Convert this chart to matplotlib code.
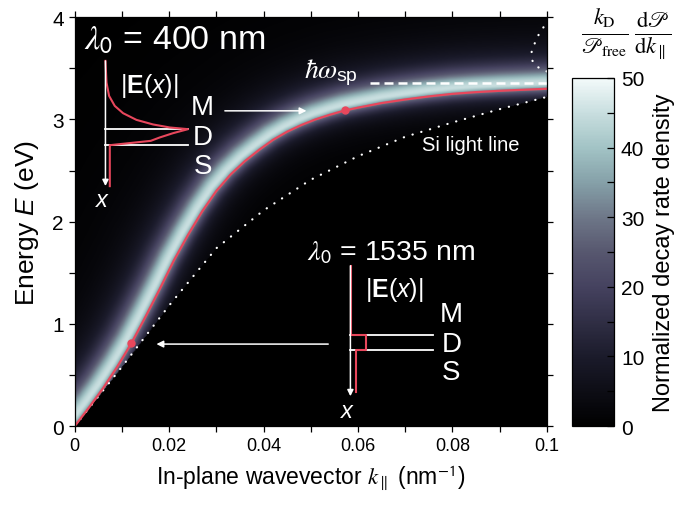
import numpy as np
import matplotlib
matplotlib.use('Agg')
import matplotlib.pyplot as plt
from matplotlib import font_manager
from matplotlib.colors import LinearSegmentedColormap
from matplotlib.ticker import MultipleLocator, FixedLocator

# plasmon dispersion (red curve)
k_sp = [0, 0.003, 0.006, 0.009, 0.012, 0.015, 0.018, 0.021, 0.024, 0.027,
        0.030, 0.033, 0.036, 0.039, 0.042, 0.045, 0.048, 0.051, 0.054, 0.057,
        0.060, 0.065, 0.070, 0.075, 0.080, 0.085, 0.090, 0.095, 0.100]
E_sp = [0, 0.18, 0.37, 0.58, 0.81, 1.07, 1.34, 1.62, 1.87, 2.10,
        2.30, 2.46, 2.59, 2.70, 2.80, 2.88, 2.945, 3.00, 3.045, 3.085,
        3.115, 3.16, 3.195, 3.225, 3.25, 3.267, 3.28, 3.29, 3.30]

# Si light line: lower branch and the bent-back piece at the top right
k_light = [0, 0.01, 0.02, 0.03, 0.04, 0.05, 0.06, 0.07, 0.08, 0.09, 0.1]
E_light = [0, 0.58, 1.18, 1.74, 2.11, 2.41, 2.64, 2.83, 2.97, 3.10, 3.22]
k_light_top = [0.1, 0.0989, 0.0975, 0.0969, 0.0968, 0.0975, 0.0985, 0.0996, 0.1]
E_light_top = [3.47, 3.49, 3.53, 3.58, 3.66, 3.75, 3.85, 3.92, 3.95]

E_sp_asym = 3.36          # hbar*omega_sp
k_dash_start = 0.0625
k_marks = [0.012, 0.0572]  # lambda0 = 1535 nm and 400 nm
E_marks = [0.81, 3.09]

peak_density = 45
cbar_ticks = [0, 10, 20, 30, 40, 50]
x_ticks = [0, 0.02, 0.04, 0.06, 0.08, 0.1]
x_tick_labels = ['0', '0.02', '0.04', '0.06', '0.08', '0.1']
y_ticks = [0, 1, 2, 3, 4]

RED = '#e8475c'

plt.rcParams['font.family'] = ['Liberation Sans', 'DejaVu Sans']
plt.rcParams['mathtext.fontset'] = 'custom'
plt.rcParams['mathtext.rm'] = 'Liberation Sans'
plt.rcParams['mathtext.it'] = 'Liberation Sans:italic'
plt.rcParams['mathtext.bf'] = 'Liberation Sans:bold'

narrow = 'Liberation Sans Narrow'
try:
    font_manager.findfont(narrow, fallback_to_default=False)
    xl_size, xt_size = 20, 15
except ValueError:
    narrow = 'Liberation Sans'
    xl_size, xt_size = 16.5, 13

# decay rate density map: a glowing band that follows the dispersion curve
kk = np.linspace(0, 0.1, 500)
ee = np.linspace(0, 4, 450)
K, E = np.meshgrid(kk, ee)
sx, sy = 4720.0, 102.25  # pixels per unit on screen
px, py = K * sx, E * sy
cx, cy = np.array(k_sp) * sx, np.array(E_sp) * sy
best = np.full(K.shape, np.inf)
sign = np.ones(K.shape)
for i in range(len(cx) - 1):
    dx, dy = cx[i + 1] - cx[i], cy[i + 1] - cy[i]
    t = np.clip(((px - cx[i]) * dx + (py - cy[i]) * dy) / (dx * dx + dy * dy), 0, 1)
    d = np.hypot(px - cx[i] - t * dx, py - cy[i] - t * dy)
    cross = dx * (py - cy[i]) - dy * (px - cx[i])
    m = d < best
    best[m] = d[m]
    sign[m] = np.where(cross[m] >= 0, 1.0, -1.0)
dist = best * sign - 6
w = np.where(dist > 0, 16.0, 9.0)
Z = peak_density / (1 + (dist / w) ** 2)
Z[K > np.interp(E, E_light, k_light)] = 0

cmap = LinearSegmentedColormap.from_list('decay', [
    (0.0, '#000000'), (0.2, '#1b1b2b'), (0.4, '#45425f'), (0.5, '#57576f'),
    (0.6, '#6e7788'), (0.7, '#85a0a8'), (0.8, '#a2c3c5'), (0.9, '#c8dedf'),
    (1.0, '#f3fafa')])

fig = plt.figure(figsize=(6.86, 5.06), dpi=100)
ax = fig.add_axes([0.109, 0.156, 0.688, 0.808])
cax = fig.add_axes([0.834, 0.156, 0.061, 0.688])

im = ax.imshow(Z, extent=[0, 0.1, 0, 4], origin='lower', aspect='auto',
               cmap=cmap, vmin=0, vmax=50, interpolation='bilinear')

ax.plot(k_light, E_light, color='white', lw=1.6, linestyle=(0, (0.1, 4)),
        dash_capstyle='round')
ax.plot(k_light_top, E_light_top, color='white', lw=1.6, linestyle=(0, (0.1, 4)),
        dash_capstyle='round', clip_on=False)
ax.hlines(E_sp_asym, k_dash_start, 0.1, color='white', lw=1.8,
          linestyle=(0, (3.6, 2)))
ax.plot(k_sp, E_sp, color=RED, lw=1.6)
ax.plot(k_marks, E_marks, 'o', color=RED, ms=5)

ax.set_xlim(0, 0.1)
ax.set_ylim(0, 4)
ax.xaxis.set_major_locator(FixedLocator(x_ticks))
ax.set_xticklabels(x_tick_labels)
ax.xaxis.set_minor_locator(MultipleLocator(0.01))
ax.yaxis.set_major_locator(FixedLocator(y_ticks))
ax.yaxis.set_minor_locator(MultipleLocator(0.5))
ax.tick_params(which='both', direction='out', length=4.5, width=0.9,
               top=True, right=True, labelsize=15)
for lab in ax.get_xticklabels():
    lab.set_family(narrow)
    lab.set_fontsize(xt_size)
for s in ax.spines.values():
    s.set_linewidth(0.9)

ax.set_xlabel(r'In-plane wavevector $k_{\parallel}$ (nm$^{\mathsf{-1}}$)',
              fontsize=xl_size, family=narrow, math_fontfamily='stix', labelpad=6)
ax.set_ylabel(r'Energy $E$ (eV)', fontsize=19, labelpad=8)

# colorbar
cb = fig.colorbar(im, cax=cax, ticks=cbar_ticks)
cax.yaxis.set_minor_locator(MultipleLocator(5))
cax.tick_params(which='both', direction='in', length=5, width=0.9,
                right=True, left=False, labelsize=15, pad=5)
cb.outline.set_linewidth(0.9)
cb.set_label('Normalized decay rate density', fontsize=17, labelpad=6)
fig.text(0.913, 0.93,
         r'$\frac{k_{\mathrm{D}}}{\mathscr{P}_{\mathrm{free}}}\,'
         r'\frac{\mathrm{d}\mathscr{P}}{\mathrm{d}k_{\parallel}}$',
         fontsize=23, math_fontfamily='stix', ha='center', va='center')

T = ax.transAxes
wkw = dict(color='white', lw=1.3, transform=T)
rkw = dict(color=RED, lw=1.5, transform=T)
tkw = dict(color='white', transform=T, ha='center', va='center')
akw = dict(arrowstyle='-|>', color='white', lw=1.1, mutation_scale=9,
           shrinkA=0, shrinkB=0)

# inset: lambda0 = 400 nm
ax.annotate('', xy=(0.065, 0.587), xytext=(0.065, 0.893), xycoords=T,
            arrowprops=akw)
ax.plot([0.065, 0.240], [0.726, 0.726], **wkw)
ax.plot([0.065, 0.240], [0.687, 0.687], **wkw)
ax.plot([0.065, 0.0672, 0.0727, 0.0847, 0.1023, 0.1307, 0.1659, 0.2013, 0.2400,
         0.2083, 0.1801, 0.1610, 0.0742, 0.0742],
        [0.8932, 0.8403, 0.8076, 0.7831, 0.7653, 0.7489, 0.7377, 0.7303, 0.7262,
         0.7164, 0.7059, 0.6976, 0.6870, 0.5868], **rkw)
ax.text(0.212, 0.946, r'$\lambda_{\mathsf{0}}$ = 400 nm', fontsize=24.5,
        math_fontfamily='stix', **tkw)
ax.text(0.157, 0.834, r'|$\mathbf{E}$($x$)|', fontsize=18, **tkw)
ax.text(0.059, 0.553, r'$x$', fontsize=17, **tkw)
for lab, y in zip('MDS', [0.780, 0.707, 0.636]):
    ax.text(0.271, y, lab, fontsize=20, **tkw)

# inset: lambda0 = 1535 nm
ax.annotate('', xy=(0.584, 0.073), xytext=(0.584, 0.392), xycoords=T,
            arrowprops=akw)
ax.plot([0.584, 0.759], [0.2225, 0.2225], **wkw)
ax.plot([0.584, 0.759], [0.1866, 0.1866], **wkw)
ax.plot([0.586, 0.586, 0.618, 0.618, 0.5953, 0.5953],
        [0.392, 0.2225, 0.2225, 0.1866, 0.1866, 0.0824], **rkw)
ax.text(0.671, 0.425, r'$\lambda_{\mathsf{0}}$ = 1535 nm', fontsize=20.5,
        math_fontfamily='stix', **tkw)
ax.text(0.678, 0.335, r'|$\mathbf{E}$($x$)|', fontsize=18, **tkw)
ax.text(0.579, 0.036, r'$x$', fontsize=17, **tkw)
for lab, y in zip('MDS', [0.274, 0.2005, 0.132]):
    ax.text(0.798, y, lab, fontsize=20, **tkw)

# arrows pointing at the two operating points
ax.annotate('', xy=(0.491, 0.771), xytext=(0.318, 0.771), xycoords=T,
            arrowprops=dict(akw, mutation_scale=10))
ax.annotate('', xy=(0.173, 0.2005), xytext=(0.537, 0.2005), xycoords=T,
            arrowprops=dict(akw, mutation_scale=10))

ax.text(0.522, 0.872, r'$\hbar\omega$', fontsize=20, math_fontfamily='stix', **tkw)
ax.text(0.577, 0.858, 'sp', fontsize=14, **tkw)
ax.text(0.839, 0.689, 'Si light line', fontsize=14.5, **tkw)

fig.savefig('out.png', dpi=100)
